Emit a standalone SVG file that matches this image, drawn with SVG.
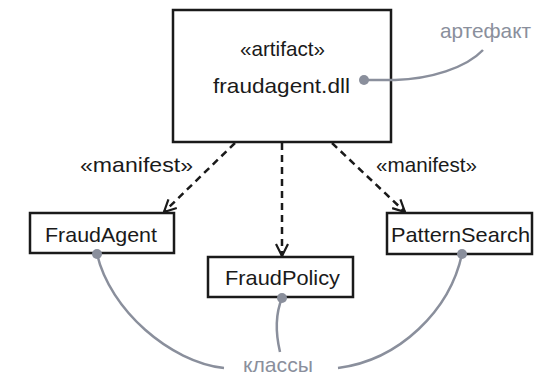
<svg xmlns="http://www.w3.org/2000/svg" width="534" height="375" viewBox="0 0 534 375">
<defs>
<style>
text{font-family:"Liberation Sans",Arial,sans-serif;font-size:21px;fill:#1a1a1a}
.box{fill:#fff;stroke:#1a1a1a;stroke-width:2.5}
.dep{fill:none;stroke:#1a1a1a;stroke-width:2.5;stroke-dasharray:7 5}
.note{fill:none;stroke:#8a8f9c;stroke-width:2.5}
.dot{fill:#8a8f9c}
text.g{fill:#8a8f9c}
</style>
<marker id="open" viewBox="0 0 14 14" refX="13" refY="7" markerWidth="14" markerHeight="14" markerUnits="userSpaceOnUse" orient="auto">
<path d="M1,1 L13,7 L1,13" fill="none" stroke="#1a1a1a" stroke-width="2.2"/>
</marker>
</defs>
<g id="connectors">
<path class="dep" d="M235,143 L164,212" marker-end="url(#open)"/>
<path class="dep" d="M282,143 L282,256" marker-end="url(#open)"/>
<path class="dep" d="M332,143 L405,212" marker-end="url(#open)"/>
<text x="80" y="172" textLength="113" lengthAdjust="spacingAndGlyphs">«manifest»</text>
<text x="376" y="172" textLength="101" lengthAdjust="spacingAndGlyphs">«manifest»</text>
</g>
<g id="artifact">
<rect class="box" x="173" y="10" width="218" height="132"/>
<text x="240" y="56" textLength="85" lengthAdjust="spacingAndGlyphs">«artifact»</text>
<text x="213" y="93" textLength="137" lengthAdjust="spacingAndGlyphs">fraudagent.dll</text>
</g>
<g id="FraudAgent">
<rect class="box" x="30" y="213" width="144" height="40"/>
<text x="45" y="242" textLength="112" lengthAdjust="spacingAndGlyphs">FraudAgent</text>
</g>
<g id="FraudPolicy">
<rect class="box" x="208" y="257" width="145" height="40"/>
<text x="225" y="285" textLength="115" lengthAdjust="spacingAndGlyphs">FraudPolicy</text>
</g>
<g id="PatternSearch">
<rect class="box" x="387" y="213" width="145" height="41"/>
<text x="391" y="242" textLength="139" lengthAdjust="spacingAndGlyphs">PatternSearch</text>
</g>
<g id="note-artifact">
<path class="note" d="M364,80 L395,80 C430,79 466,68 483,50"/>
<circle class="dot" cx="364" cy="80" r="5"/>
<text class="g" x="440" y="38" textLength="91" lengthAdjust="spacingAndGlyphs">артефакт</text>
</g>
<g id="note-classes">
<path class="note" d="M97,254 C110,310 170,362 224,368"/>
<path class="note" d="M282,298 C275,315 276,335 280,352"/>
<path class="note" d="M338,368 C400,360 450,310 462,254"/>
<circle class="dot" cx="97" cy="254" r="5"/>
<circle class="dot" cx="282" cy="298" r="5"/>
<circle class="dot" cx="462" cy="254" r="5"/>
<text class="g" x="243" y="372" textLength="70" lengthAdjust="spacingAndGlyphs">классы</text>
</g>
</svg>
